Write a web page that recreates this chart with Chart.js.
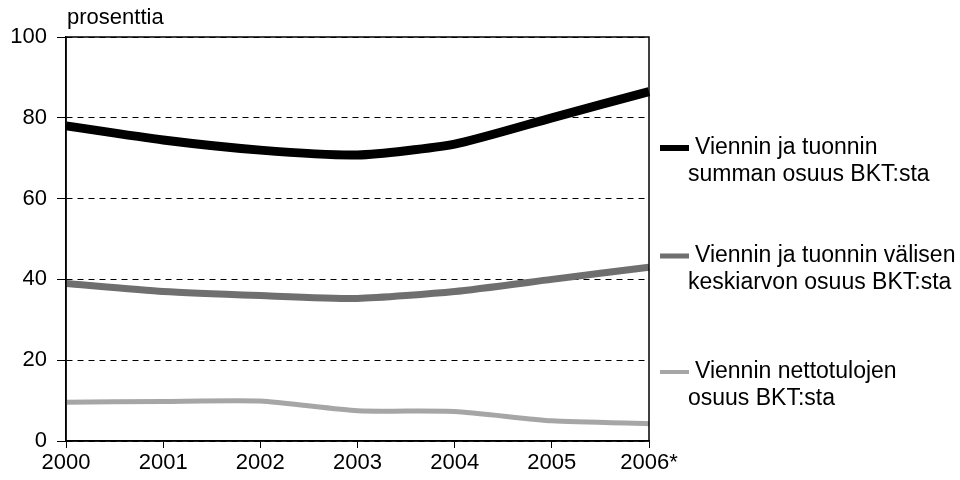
<!DOCTYPE html>
<html>
<head>
<meta charset="utf-8">
<script src="https://cdn.jsdelivr.net/npm/chart.js@4"></script>
<style>
  html, body { margin: 0; padding: 0; background: #fff; }
  #wrap { width: 960px; height: 480px; position: relative; }
</style>
</head>
<body>
<div id="wrap"><canvas id="myChart" width="960" height="480"></canvas></div>
<script>
var vuodet = ["2000", "2001", "2002", "2003", "2004", "2005", "2006*"];
var summa = [78, 74.5, 72, 70.8, 73.5, 80, 86.5];
var keskiarvo = [39, 37, 36, 35.3, 37, 40, 43];
var nettotulot = [9.6, 9.8, 9.9, 7.5, 7.3, 5, 4.3];
var yTicks = [0, 20, 40, 60, 80, 100];
var nimet = [
    ["Viennin ja tuonnin", "summan osuus BKT:sta"],
    ["Viennin ja tuonnin välisen", "keskiarvon osuus BKT:sta"],
    ["Viennin nettotulojen", "osuus BKT:sta"]
];

var fontti = "Liberation Sans, Arial, sans-serif";

// oma selite oikealle puolelle + kehys
var selite = {
    id: "selite",
    afterDraw: function (chart) {
        var ctx = chart.ctx;
        var a = chart.chartArea;
        ctx.save();
        ctx.strokeStyle = "#000";
        ctx.lineWidth = 1.5;
        ctx.strokeRect(a.left, a.top, a.right - a.left, a.bottom - a.top);

        ctx.font = "22px " + fontti;
        ctx.fillStyle = "#000";
        ctx.textBaseline = "middle";
        ctx.textAlign = "left";
        ctx.fillText("prosenttia", 67, 18);

        ctx.font = "23px " + fontti;
        var rivit = [148, 256, 372];
        chart.data.datasets.forEach(function (ds, i) {
            var y = rivit[i];
            ctx.fillStyle = ds.borderColor;
            var h = i == 0 ? 6 : (i == 1 ? 5 : 4);
            ctx.fillRect(660, y - h / 2, 29, h);
            ctx.fillStyle = "#000";
            ctx.fillText(nimet[i][0], 695, y);
            ctx.fillText(nimet[i][1], 688, y + 27);
        });
        ctx.restore();
    }
};

var ctx = document.getElementById("myChart");
var myChart = new Chart(ctx, {
    type: "line",
    data: {
        labels: vuodet,
        datasets: [
            {
                label: nimet[0].join(" "),
                data: summa,
                borderColor: "#000000",
                borderWidth: 9,
                pointRadius: 0,
                tension: 0.2,
                fill: false
            },
            {
                label: nimet[1].join(" "),
                data: keskiarvo,
                borderColor: "#6f6f6f",
                borderWidth: 7,
                pointRadius: 0,
                tension: 0.2,
                fill: false
            },
            {
                label: nimet[2].join(" "),
                data: nettotulot,
                borderColor: "#a6a6a6",
                borderWidth: 5,
                pointRadius: 0,
                tension: 0.2,
                fill: false
            }
        ]
    },
    options: {
        responsive: false,
        animation: false,
        layout: { padding: { left: 0, right: 311, top: 37, bottom: 0 } },
        plugins: {
            legend: { display: false },
            tooltip: { enabled: false }
        },
        scales: {
            x: {
                offset: false,
                grid: { drawOnChartArea: false, tickLength: 7, color: "#000" },
                border: { color: "#000", width: 1.5 },
                ticks: {
                    color: "#000",
                    font: { size: 22, family: fontti },
                    padding: 2,
                    maxRotation: 0
                },
                afterFit: function (s) { s.height = 39; }
            },
            y: {
                min: 0,
                max: 100,
                afterBuildTicks: function (s) {
                    s.ticks = yTicks.map(function (v) { return { value: v }; });
                },
                grid: { color: "#000", lineWidth: 1, tickLength: 9, tickBorderDash: [] },
                border: { color: "#000", width: 1.5, dash: [6, 5] },
                ticks: {
                    color: "#000",
                    font: { size: 22, family: fontti },
                    padding: 10
                },
                afterFit: function (s) { s.width = 66; }
            }
        }
    },
    plugins: [selite]
});
</script>
</body>
</html>
